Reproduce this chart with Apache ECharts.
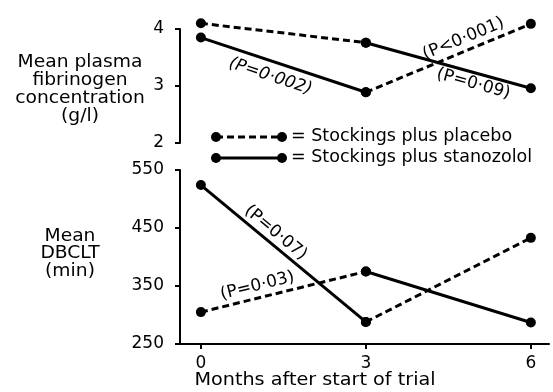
<!DOCTYPE html>
<html>
<head>
<meta charset="utf-8">
<script src="https://cdn.jsdelivr.net/npm/echarts@6/dist/echarts.min.js"></script>
<style>
  html, body { margin: 0; padding: 0; background: #fff; }
  #chart { width: 553px; height: 392px; }
</style>
</head>
<body>
<div id="chart"></div>
<script>
// Crossover trial: groups swap treatment at 3 months.
// Line style follows the treatment period: dashed = placebo, solid = stanozolol.
const months = [0, 3, 6];
const fibPlaceboFirst = [4.10, 3.76, 2.96];
const fibStanozololFirst = [3.85, 2.89, 4.09];
const dbcltPlaceboFirst = [305, 375, 287];
const dbcltStanozololFirst = [524, 288, 433];

const fibTicks = [2, 3, 4];
const dbcltTicks = [250, 350, 450, 550];
const monthTicks = [0, 3, 6];

const fibTitle = ['Mean plasma', 'fibrinogen', 'concentration', '(g/l)'];
const dbcltTitle = ['Mean', 'DBCLT', '(min)'];
const xTitle = 'Months after start of trial';
const legendLabels = ['= Stockings plus placebo', '= Stockings plus stanozolol'];

const FONT = '"DejaVu Sans", sans-serif';
const FS = 17;
const INK = '#000';
const DASH = [7, 4];

// significance notes, attached to a segment of a group's line
const notes = [
  { text: '(P=0·002)', grid: 0, values: fibStanozololFirst, seg: 0, t: 0.45, side: -1, gap: 15, italic: true },
  { text: '(P<0·001)', grid: 0, values: fibStanozololFirst, seg: 1, t: 0.62, side: 1, gap: 12 },
  { text: '(P=0·09)', grid: 0, values: fibPlaceboFirst, seg: 1, t: 0.67, side: -1, gap: 11 },
  { text: '(P=0·07)', grid: 1, values: dbcltStanozololFirst, seg: 0, t: 0.41, side: 1, gap: 11 },
  { text: '(P=0·03)', grid: 1, values: dbcltPlaceboFirst, seg: 0, t: 0.36, side: 1, gap: 12 }
];

function segment(values, i) {
  return [[months[i], values[i]], [months[i + 1], values[i + 1]]];
}

function lineSeries(grid, values, i, dashed) {
  return {
    type: 'line',
    xAxisIndex: grid,
    yAxisIndex: grid,
    data: segment(values, i),
    clip: false,
    symbol: 'circle',
    symbolSize: 10,
    itemStyle: { color: INK },
    lineStyle: { color: INK, width: 3, type: dashed ? DASH : 'solid' },
    z: dashed ? 3 : 4
  };
}

const labelStyle = { color: INK, fontFamily: FONT, fontSize: FS };

const chart = echarts.init(document.getElementById('chart'), null, { renderer: 'canvas' });

chart.setOption({
  animation: false,
  backgroundColor: '#fff',
  grid: [
    { left: 180, top: 29, width: 369, height: 114 },
    { left: 180, top: 170, width: 369, height: 174 }
  ],
  xAxis: [
    { gridIndex: 0, type: 'value', min: -0.38, max: 6.33, show: false },
    {
      gridIndex: 1, type: 'value', min: -0.38, max: 6.33,
      axisLine: { onZero: false, lineStyle: { color: INK, width: 2 } },
      axisTick: { customValues: monthTicks, length: 5, lineStyle: { color: INK, width: 2 } },
      axisLabel: Object.assign({ customValues: monthTicks, margin: 11 }, labelStyle),
      splitLine: { show: false }
    }
  ],
  yAxis: [
    {
      gridIndex: 0, type: 'value', min: 2, max: 4, interval: 1,
      axisLine: { show: true, onZero: false, lineStyle: { color: INK, width: 2 } },
      axisTick: { show: true, length: 5, lineStyle: { color: INK, width: 2 } },
      axisLabel: Object.assign({ margin: 16 }, labelStyle),
      splitLine: { show: false }
    },
    {
      gridIndex: 1, type: 'value', min: 250, max: 550,
      axisLine: { show: true, onZero: false, lineStyle: { color: INK, width: 2 } },
      axisTick: { show: true, customValues: dbcltTicks, length: 5, lineStyle: { color: INK, width: 2 } },
      axisLabel: Object.assign({ customValues: dbcltTicks, margin: 16 }, labelStyle),
      splitLine: { show: false }
    }
  ],
  series: [
    lineSeries(0, fibPlaceboFirst, 0, true),
    lineSeries(0, fibPlaceboFirst, 1, false),
    lineSeries(0, fibStanozololFirst, 0, false),
    lineSeries(0, fibStanozololFirst, 1, true),
    lineSeries(1, dbcltPlaceboFirst, 0, true),
    lineSeries(1, dbcltPlaceboFirst, 1, false),
    lineSeries(1, dbcltStanozololFirst, 0, false),
    lineSeries(1, dbcltStanozololFirst, 1, true)
  ]
});

function textEl(str, x, y, align, extra) {
  return Object.assign({
    type: 'text', x: x, y: y, silent: true,
    style: {
      text: str, fill: INK, font: FS + 'px ' + FONT,
      align: align, verticalAlign: 'middle',
      textAlign: align, textVerticalAlign: 'middle'
    }
  }, extra || {});
}

const elements = [];

// axis titles (slightly widened to the figure's broad lettering)
fibTitle.forEach((s, i) => elements.push(textEl(s, 80, 63 + i * 17.8, 'center', { scaleX: 1.1 })));
dbcltTitle.forEach((s, i) => elements.push(textEl(s, 70, 236.5 + i * 17.5, 'center', { scaleX: 1.1 })));
elements.push(textEl(xTitle, 315, 381, 'center', { scaleX: 1.13 }));

// key: dot-line-dot sample followed by its label
legendLabels.forEach((s, i) => {
  const y = 137 + i * 21;
  const x1 = 216, x2 = 282;
  elements.push({
    type: 'line', silent: true,
    shape: { x1: x1, y1: y, x2: x2, y2: y },
    style: { stroke: INK, lineWidth: 3, lineDash: i === 0 ? DASH : null }
  });
  [x1, x2].forEach(cx => elements.push({
    type: 'circle', silent: true, shape: { cx: cx, cy: y, r: 5 }, style: { fill: INK }
  }));
  elements.push(textEl(s, 291, y, 'left', { scaleX: 1.03 }));
});

// significance notes laid along their segments
notes.forEach(n => {
  const p1 = chart.convertToPixel({ xAxisIndex: n.grid, yAxisIndex: n.grid }, [months[n.seg], n.values[n.seg]]);
  const p2 = chart.convertToPixel({ xAxisIndex: n.grid, yAxisIndex: n.grid }, [months[n.seg + 1], n.values[n.seg + 1]]);
  const dx = p2[0] - p1[0], dy = p2[1] - p1[1];
  const len = Math.hypot(dx, dy);
  const nx = dy / len, ny = -dx / len; // screen-up normal
  const cx = p1[0] + dx * n.t + n.side * nx * n.gap;
  const cy = p1[1] + dy * n.t + n.side * ny * n.gap;
  const el = textEl(n.text, cx, cy, 'center', { rotation: -Math.atan2(dy, dx) });
  if (n.italic) el.style.font = 'italic ' + FS + 'px ' + FONT;
  elements.push(el);
});

chart.setOption({ graphic: { elements: elements } });
</script>
</body>
</html>
